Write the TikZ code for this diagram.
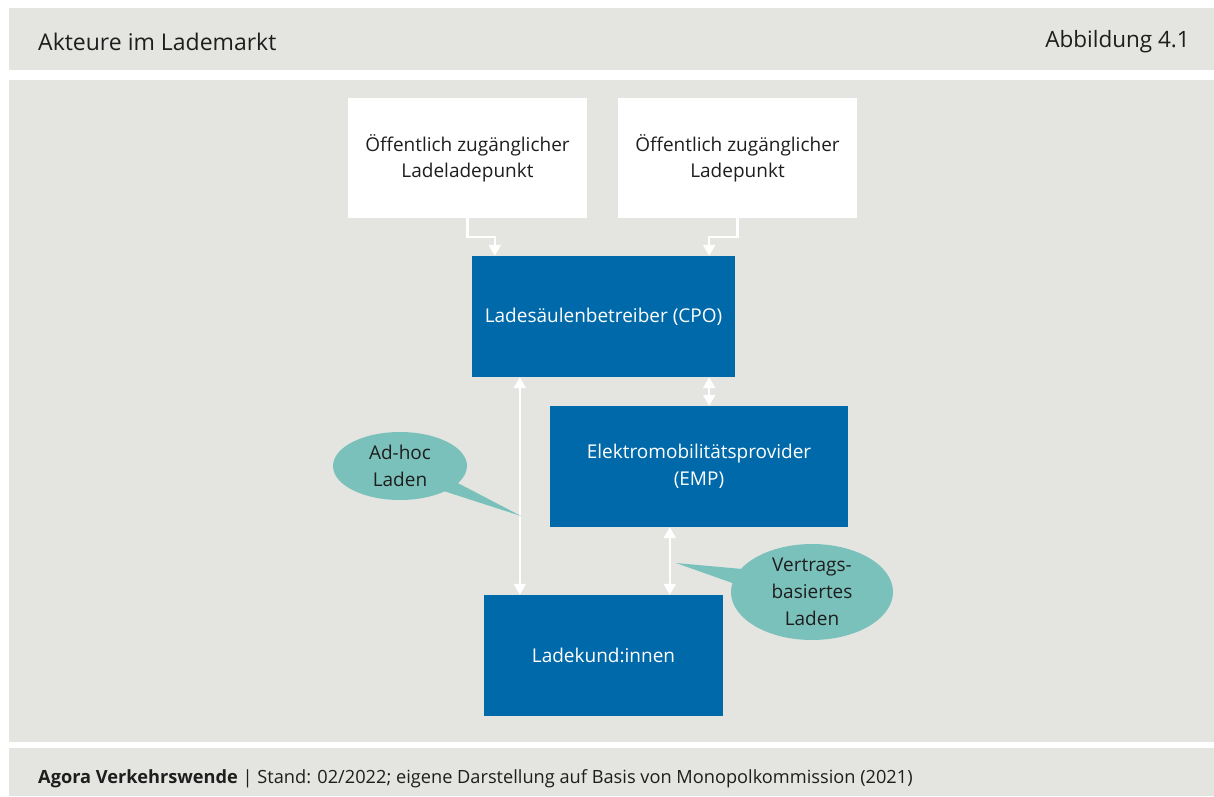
\documentclass[tikz,border=0pt]{standalone}
\usepackage{fontspec}
\setmainfont{Open Sans}
\usetikzlibrary{arrows.meta, shapes.callouts}
\definecolor{panelgrey}{HTML}{E4E4E0}
\definecolor{agorablue}{HTML}{0069AA}
\definecolor{bubbleteal}{HTML}{7BC1BB}
\definecolor{textdark}{HTML}{1E1E1E}
\tikzset{
  pointbox/.style = {fill = white, minimum width = 239, minimum height = 120, align = center, font = \fontsize{19}{26}\selectfont, text = textdark},
  actorbox/.style = {fill = agorablue, minimum height = 121, align = center, font = \fontsize{19}{27}\selectfont, text = white},
  bubble/.style = {ellipse callout, fill = bubbleteal, inner sep = 0, align = center, font = \fontsize{19}{27}\selectfont, text = textdark, callout pointer arc = 18},
  flow/.style = {draw = white, line width = 2.4, -{Triangle[length = 11, width = 12]}},
  dflow/.style = {draw = white, line width = 2.4, {Triangle[length = 11, width = 12]}-{Triangle[length = 11, width = 12]}}
}

\begin{document}
\begin{tikzpicture}[x = 1pt, y = -1pt]
    \useasboundingbox (0, 0) rectangle (1214, 796);
    \fill [white] (0, 0) rectangle (1214, 796);
    \fill [panelgrey] (9, 8) rectangle (1214, 70);
    \fill [panelgrey] (9, 80) rectangle (1214, 742);
    \fill [panelgrey] (9, 748) rectangle (1214, 796);

    \node [anchor = west, inner sep = 0, font = \fontsize{23}{26}\selectfont, text = textdark] (title) at (38, 42) {Akteure im Lademarkt};
    \node [anchor = east, inner sep = 0, font = \fontsize{22.5}{26}\selectfont, text = textdark] (fignum) at (1190, 42) {Abbildung 4.1};
    \node [anchor = west, inner sep = 0, font = \fontsize{18.2}{22}\selectfont, text = textdark] (source) at (38, 779)
    {\textbf{Agora Verkehrswende} | Stand: 02/2022; eigene Darstellung auf Basis von Monopolkommission (2021)};

    \node [pointbox] (lp1) at (467.5, 158) {Öffentlich zugänglicher\\Ladeladepunkt};
    \node [pointbox] (lp2) at (737.5, 158) {Öffentlich zugänglicher\\Ladepunkt};

    \node [actorbox, minimum width = 263] (cpo) at (603.5, 316.5) {Ladesäulenbetreiber (CPO)};
    \node [actorbox, minimum width = 298] (emp) at (699, 466.5) {Elektromobilitätsprovider\\(EMP)};
    \node [actorbox, minimum width = 239] (kunde) at (603.5, 655.5) {Ladekund:innen};

    \draw [flow] (lp1.south) -- ++(0, 19) -| ([xshift = 23]cpo.north west);
    \draw [flow] (lp2.south) -- ++(0, 19) -| ([xshift = -26]cpo.north east);

    \draw [dflow] ([xshift = 48]cpo.south west) -- ([xshift = 48]cpo.south west |- kunde.north);
    \draw [dflow] ([xshift = -26]cpo.south east) -- ([xshift = -26]cpo.south east |- emp.north);
    \draw [dflow] ([xshift = 120]emp.south west) -- ([xshift = 120]emp.south west |- kunde.north);

    \coordinate (adhoctip) at (521, 516);
    \coordinate (vertragtip) at (676, 563);

    \node [bubble, minimum width = 134, minimum height = 68, callout absolute pointer = {(adhoctip)}] (adhoc) at (400, 466) {Ad-hoc\\Laden};
    \node [bubble, minimum width = 162, minimum height = 96, callout absolute pointer = {(vertragtip)}] (vertrag) at (812, 592) {Vertrags-\\basiertes\\Laden};
  \end{tikzpicture}
\end{document}
